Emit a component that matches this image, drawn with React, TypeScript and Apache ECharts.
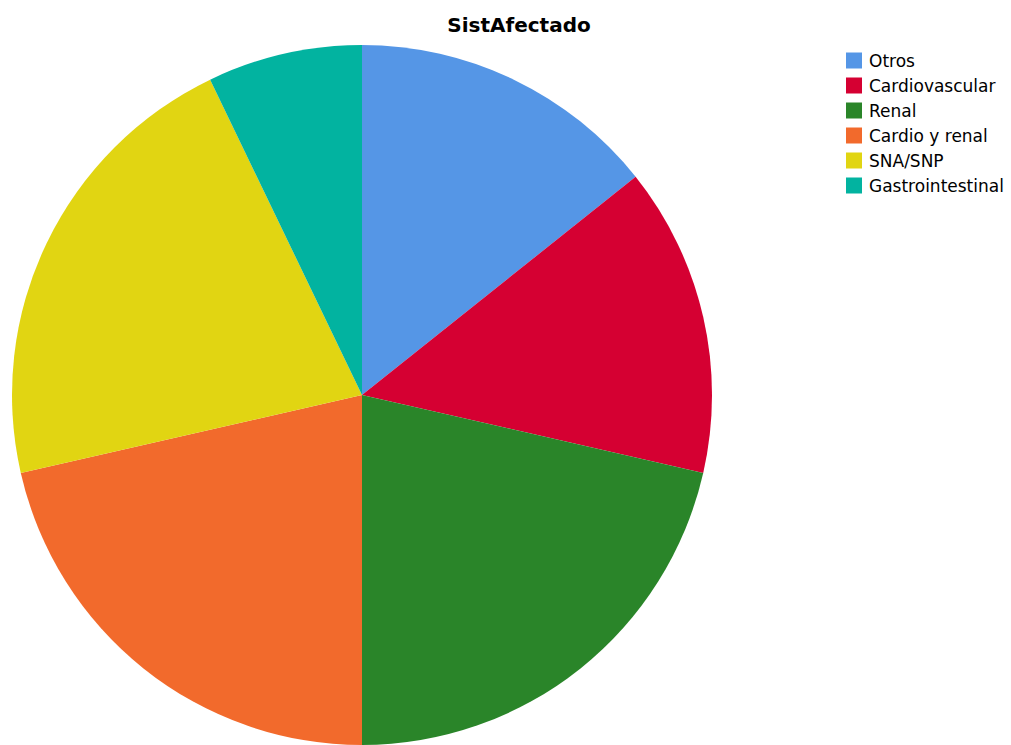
import React, { useEffect, useRef } from "react";
import * as echarts from "echarts";

const categories = ["Otros", "Cardiovascular", "Renal", "Cardio y renal", "SNA/SNP", "Gastrointestinal"];
const counts = [2, 2, 3, 3, 3, 1];
const colors = ["#5596e6", "#d50032", "#2a8529", "#f26a2c", "#e1d512", "#02b3a0"];

export default function App() {
  const ref = useRef<HTMLDivElement>(null);
  useEffect(() => {
    document.body.style.margin = "0";
    const chart = echarts.init(ref.current!, undefined, { renderer: "svg" });
    chart.setOption({
      animation: false,
      backgroundColor: "#ffffff",
      title: {
        text: "SistAfectado",
        left: 514,
        top: 10,
        textAlign: "center",
        textStyle: { fontFamily: "DejaVu Sans", fontSize: 20, fontWeight: "bold", color: "#000" },
      },
      legend: {
        orient: "vertical",
        left: 846,
        top: 52,
        padding: 0,
        itemWidth: 16,
        itemHeight: 16,
        itemGap: 8,
        icon: "rect",
        textStyle: { fontFamily: "DejaVu Sans", fontSize: 17, color: "#000", padding: [0, 0, 0, 2] },
        data: categories,
      },
      series: [
        {
          type: "pie",
          center: [362, 395],
          radius: 350,
          startAngle: 90,
          clockwise: true,
          label: { show: false },
          labelLine: { show: false },
          emphasis: { disabled: true },
          itemStyle: { borderWidth: 0 },
          data: categories.map((name, i) => ({ name, value: counts[i], itemStyle: { color: colors[i] } })),
        },
      ],
    });
    return () => chart.dispose();
  }, []);
  return <div ref={ref} style={{ width: 1011, height: 745 }} />;
}
